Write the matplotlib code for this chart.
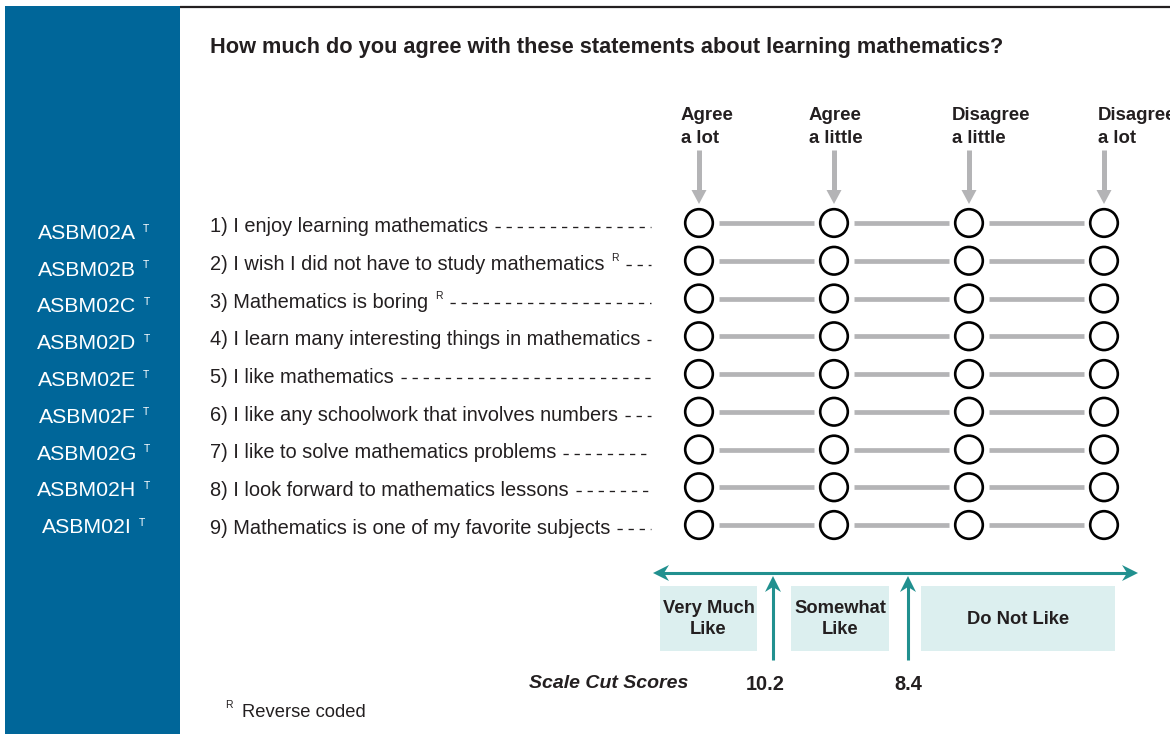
import matplotlib
matplotlib.use('Agg')
import matplotlib.pyplot as plt
from matplotlib.patches import Circle, Rectangle, Polygon

plt.rcParams['font.family'] = ['Liberation Sans', 'DejaVu Sans']

# ---- content ----
title = "How much do you agree with these statements about learning mathematics?"
codes = ['ASBM02A', 'ASBM02B', 'ASBM02C', 'ASBM02D', 'ASBM02E',
         'ASBM02F', 'ASBM02G', 'ASBM02H', 'ASBM02I']
items = ["1) I enjoy learning mathematics",
         "2) I wish I did not have to study mathematics",
         "3) Mathematics is boring",
         "4) I learn many interesting things in mathematics",
         "5) I like mathematics",
         "6) I like any schoolwork that involves numbers",
         "7) I like to solve mathematics problems",
         "8) I look forward to mathematics lessons",
         "9) Mathematics is one of my favorite subjects"]
reverse_coded = [False, True, True, False, False, False, False, False, False]
options = ["Agree\na lot", "Agree\na little", "Disagree\na little", "Disagree\na lot"]
categories = ["Very Much\nLike", "Somewhat\nLike", "Do Not Like"]
cut_scores = [10.2, 8.4]

# ---- layout (pixels) ----
W, H = 1170, 734
BLUE = '#006699'
TEAL = '#21908f'
BOXC = '#dcefef'
GRAY = '#b4b4b6'
INK = '#231f20'

opt_x0, opt_dx = 699, 135
row_y0, row_dy = 223, 37.75
code_y0, code_dy = 239, 36.75
header_dx = [-18, -25, -17, -6]
cat_spans = [(660, 757), (791, 889), (921, 1115)]
cut_x = [773, 908]
dash_end = 651


def opt_x(i):
    return opt_x0 + i * opt_dx


def row_y(i):
    return row_y0 + i * row_dy


def head(ax, tip, d, L, Wd, notch, color):
    # arrow head polygon, d = unit direction toward the tip
    tx, ty = tip
    dx, dy = d
    nx, ny = -dy, dx
    pts = [(tx, ty),
           (tx - L * dx + Wd * nx, ty - L * dy + Wd * ny),
           (tx - (L - notch) * dx, ty - (L - notch) * dy),
           (tx - L * dx - Wd * nx, ty - L * dy - Wd * ny)]
    ax.add_patch(Polygon(pts, closed=True, facecolor=color, edgecolor='none', zorder=4))


fig = plt.figure(figsize=(W / 100, H / 100), dpi=100)
ax = fig.add_axes([0, 0, 1, 1])
ax.set_xlim(0, W)
ax.set_ylim(H, 0)
ax.axis('off')
renderer = fig.canvas.get_renderer()


def right_edge(t):
    return t.get_window_extent(renderer).x1


# side panel + top rule
ax.add_patch(Rectangle((5, 6), 175, H, facecolor=BLUE, edgecolor='none'))
ax.plot([180, W], [7, 7], color=INK, lw=1.6, solid_capstyle='butt')

ax.text(210, 53, title, fontsize=15.7, fontweight='bold', color=INK, va='baseline')

# codes in side panel
for i, c in enumerate(codes):
    y = code_y0 + i * code_dy
    t = ax.text(87, y, c, fontsize=15.3, color='white', ha='center', va='baseline')
    ax.text(right_edge(t) + 7, y - 15.5, 'T', fontsize=7.5, color='white', va='top')

# item statements with leader dashes
for i, s in enumerate(items):
    y = row_y(i)
    t = ax.text(210, y + 9, s, fontsize=14.4, color=INK, va='baseline')
    x_end = right_edge(t)
    if reverse_coded[i]:
        r = ax.text(x_end + 7, y - 7.5, 'R', fontsize=7.5, color=INK, va='top')
        x_end = right_edge(r)
    ax.plot([x_end + 7, dash_end], [y + 4, y + 4], color=INK, lw=0.95,
            linestyle=(0, (4.0, 4.4)), solid_capstyle='butt')

# headers + gray arrows
for j, lab in enumerate(options):
    x = opt_x(j)
    ax.text(x + header_dx[j], 143, lab, fontsize=13.4, fontweight='bold', color=INK,
            va='baseline', linespacing=1.48)
    ax.plot([x, x], [150, 192], color=GRAY, lw=3.6, solid_capstyle='butt')
    head(ax, (x, 204), (0, 1), 14, 7.5, 0, GRAY)

# response circles and connectors
for i in range(len(items)):
    y = row_y(i)
    for j in range(len(options)):
        ax.add_patch(Circle((opt_x(j), y), 13.8, facecolor='white', edgecolor='black',
                            lw=1.9, zorder=3))
        if j < len(options) - 1:
            ax.plot([opt_x(j) + 20, opt_x(j + 1) - 20], [y, y], color=GRAY, lw=3.4,
                    solid_capstyle='butt', zorder=2)

# scale double arrow
ay = 573
ax.plot([653 + 10, 1138 - 10], [ay, ay], color=TEAL, lw=2.2, solid_capstyle='butt')
head(ax, (653, ay), (-1, 0), 16, 8, 5, TEAL)
head(ax, (1138, ay), (1, 0), 16, 8, 5, TEAL)

# category boxes
for (x0, x1), lab in zip(cat_spans, categories):
    ax.add_patch(Rectangle((x0, 586), x1 - x0, 65, facecolor=BOXC, edgecolor='none'))
    ax.text((x0 + x1) / 2, 619, lab, fontsize=13.2, fontweight='bold', color=INK,
            ha='center', va='center', linespacing=1.3)

# cut score arrows
ax.text(688, 688, 'Scale Cut Scores', fontsize=14, fontweight='bold', style='italic',
        color=INK, ha='right', va='baseline')
for x, v, tx in zip(cut_x, cut_scores, [765, 908]):
    ax.plot([x, x], [660, 585], color=TEAL, lw=2.2, solid_capstyle='butt')
    head(ax, (x, 576), (0, -1), 16, 8, 5, TEAL)
    ax.text(tx, 690, f'{v:.1f}', fontsize=14.4, fontweight='bold', color=INK,
            ha='center', va='baseline')

# footnote
ax.text(225, 710, 'R', fontsize=7.5, color=INK, va='bottom')
ax.text(242, 717, 'Reverse coded', fontsize=13.2, color=INK, va='baseline')

fig.savefig('out.png', dpi=100)
